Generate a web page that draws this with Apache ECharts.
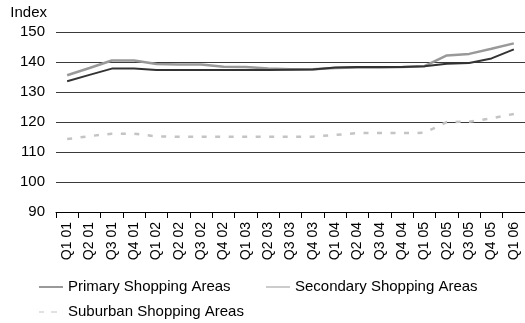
<!DOCTYPE html>
<html>
<head>
<meta charset="utf-8">
<script src="https://cdn.jsdelivr.net/npm/echarts@6/dist/echarts.min.js"></script>
<style>
  html, body { margin: 0; padding: 0; background: #fff; }
  #chart { width: 525px; height: 323px; }
</style>
</head>
<body>
<div id="chart"></div>
<script>
// Quarterly shopping-area index, Q1 2001 – Q1 2006
const quarters = [
  'Q1 01', 'Q2 01', 'Q3 01', 'Q4 01',
  'Q1 02', 'Q2 02', 'Q3 02', 'Q4 02',
  'Q1 03', 'Q2 03', 'Q3 03', 'Q4 03',
  'Q1 04', 'Q2 04', 'Q3 04', 'Q4 04',
  'Q1 05', 'Q2 05', 'Q3 05', 'Q4 05',
  'Q1 06'
];
const primaryAreas = [
  133.6, 135.7, 137.8, 137.8, 137.3, 137.3, 137.3, 137.3, 137.3, 137.3,
  137.4, 137.5, 138.2, 138.3, 138.3, 138.3, 138.6, 139.4, 139.7, 141.2, 144.2
];
const secondaryAreas = [
  135.6, 138.0, 140.5, 140.5, 139.3, 139.2, 139.2, 138.4, 138.3, 137.8,
  137.6, 137.6, 138.0, 138.2, 138.2, 138.3, 138.6, 142.2, 142.7, 144.4, 146.2
];
const suburbanAreas = [
  114.3, 115.3, 116.1, 116.1, 115.2, 115.1, 115.1, 115.1, 115.1, 115.1,
  115.1, 115.1, 115.7, 116.3, 116.3, 116.3, 116.4, 120.0, 120.1, 121.2, 122.7
];
const seriesNames = ['Primary Shopping Areas', 'Secondary Shopping Areas', 'Suburban Shopping Areas'];

const FONT = 'Liberation Sans, Arial, sans-serif';
const SOLID_ICON = 'path://M0,0h24v1h-24z';
const DASH_ICON = 'path://M0,0h5v1h-5zM12,0h6v1h-6zM23.9,0h0.1v1h-0.1z';

const chart = echarts.init(document.getElementById('chart'), null, { renderer: 'canvas' });

function legendFor(name, icon, left, top) {
  return {
    data: [{ name: name, icon: icon }],
    left: left,
    top: top,
    itemWidth: 24,
    itemHeight: 3,
    padding: 0,
    selectedMode: false,
    textStyle: { fontFamily: FONT, fontSize: 15, color: '#000', lineHeight: 18 }
  };
}

chart.setOption({
  animation: false,
  backgroundColor: '#fff',
  textStyle: { fontFamily: FONT },
  grid: { left: 56, top: 32, width: 474.6, height: 180, containLabel: false },
  legend: [
    legendFor(seriesNames[0], SOLID_ICON, 39, 278),
    legendFor(seriesNames[1], SOLID_ICON, 266, 278),
    legendFor(seriesNames[2], DASH_ICON, 39, 303)
  ],
  xAxis: {
    type: 'category',
    data: quarters,
    boundaryGap: true,
    axisLine: { show: true, lineStyle: { color: '#000', width: 1 } },
    axisTick: { show: true, length: 6, lineStyle: { color: '#000' } },
    axisLabel: {
      rotate: 90,
      margin: 10,
      interval: 0,
      fontFamily: FONT,
      fontSize: 14,
      color: '#000'
    },
    splitLine: { show: false }
  },
  yAxis: {
    type: 'value',
    min: 90,
    max: 150,
    interval: 10,
    name: 'Index',
    nameLocation: 'end',
    nameGap: 12,
    nameTextStyle: { fontFamily: FONT, fontSize: 15, color: '#000', align: 'right', padding: [0, 9, 0, 0] },
    axisLine: { show: false },
    axisTick: { show: false },
    axisLabel: { margin: 11, fontFamily: FONT, fontSize: 15, color: '#000' },
    splitLine: { show: true, lineStyle: { color: '#3a3a3a', width: 1 } }
  },
  series: [
    {
      name: seriesNames[0],
      type: 'line',
      data: primaryAreas,
      symbol: 'none',
      lineStyle: { color: '#333333', width: 2 },
      itemStyle: { color: '#333333' },
      z: 3
    },
    {
      name: seriesNames[1],
      type: 'line',
      data: secondaryAreas,
      symbol: 'none',
      lineStyle: { color: '#999999', width: 2.5 },
      itemStyle: { color: '#999999' },
      z: 2
    },
    {
      name: seriesNames[2],
      type: 'line',
      data: suburbanAreas,
      symbol: 'none',
      lineStyle: { color: '#c4c4c4', width: 2.5, type: [5, 8.5] },
      itemStyle: { color: '#c4c4c4' },
      z: 2
    }
  ]
});
</script>
</body>
</html>
